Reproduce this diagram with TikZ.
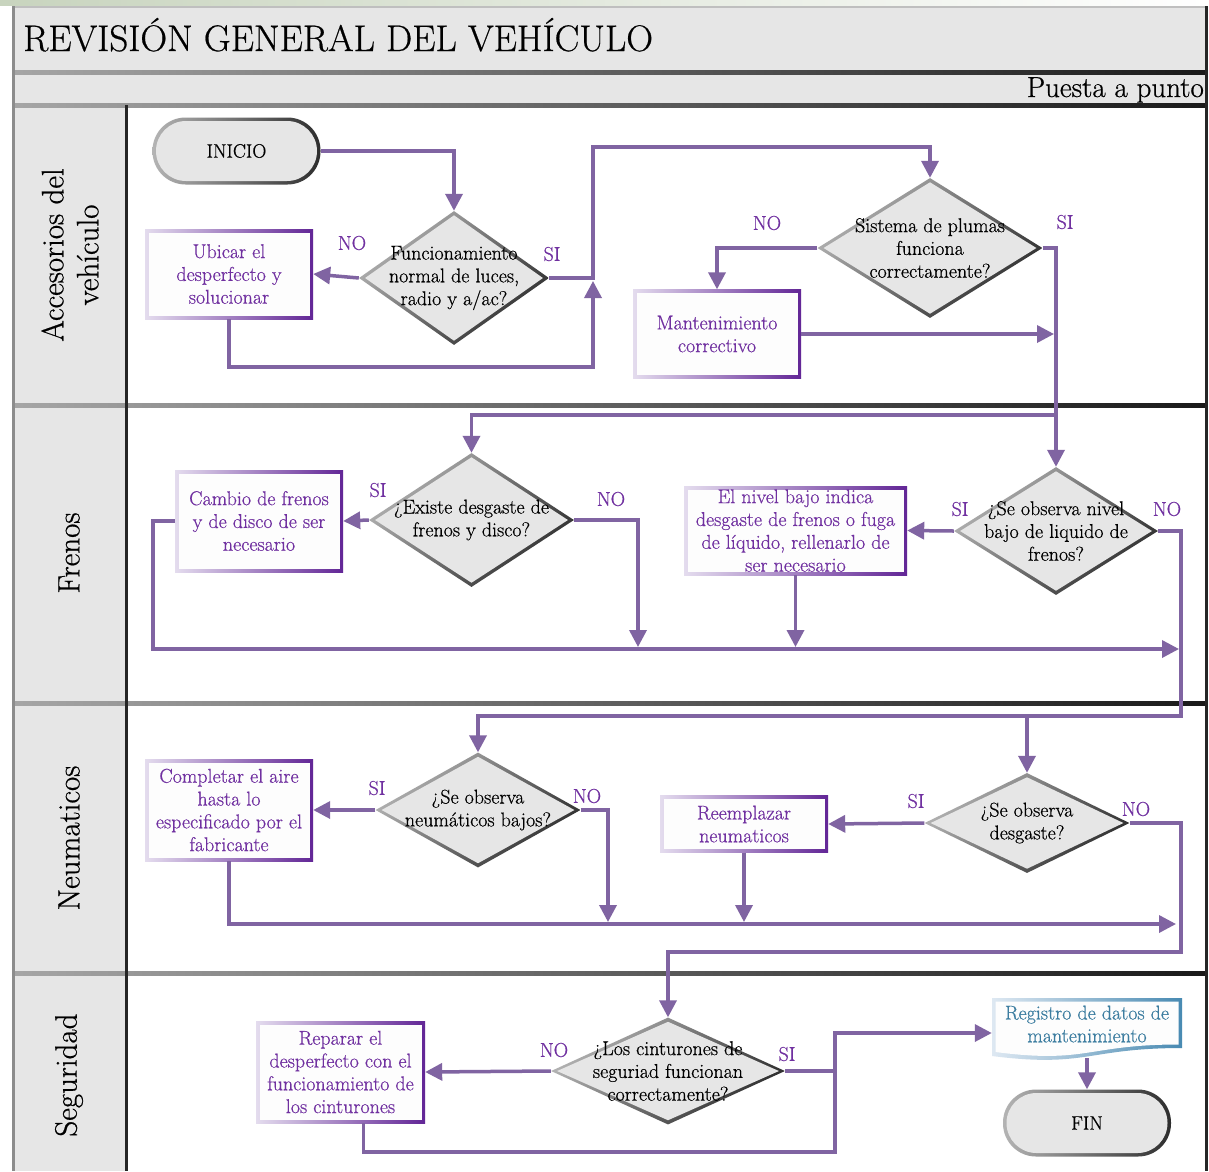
\documentclass[tikz,border=0pt]{standalone}
\usepackage{fontspec}
\setmainfont{Latin Modern Roman}[FakeBold=0.6]
\usetikzlibrary{arrows.meta,shapes.geometric,calc}
\definecolor{arrowc}{RGB}{128,100,162}
\definecolor{ptext}{RGB}{112,48,160}
\definecolor{hdrfill}{RGB}{230,230,230}
\definecolor{bxL}{RGB}{228,220,238}
\definecolor{bxR}{RGB}{98,38,150}
\definecolor{bxfill}{RGB}{253,253,253}
\definecolor{gL}{RGB}{180,180,180}
\definecolor{gR}{RGB}{45,45,45}
\definecolor{dfill}{RGB}{230,230,230}
\definecolor{docL}{RGB}{222,232,242}
\definecolor{docR}{RGB}{72,138,178}
\definecolor{doctext}{RGB}{60,125,160}
\newcommand\bodyfont{\fontsize{20}{22.8}\selectfont}
\tikzset{
  arr/.style={draw=arrowc, line width=3.5pt, -{Triangle[length=17pt,width=17pt]}},
  flow/.style={draw=arrowc, line width=3.5pt},
  procbox/.style={rectangle, inner sep=0pt, minimum width=168pt, align=center, text=ptext, font=\bodyfont,
    path picture={
      \shade[left color=bxL, right color=bxR] (path picture bounding box.south west) rectangle (path picture bounding box.north east);
      \fill[bxfill] ([shift={(3.5pt,3.5pt)}]path picture bounding box.south west) rectangle ([shift={(-3.5pt,-3.5pt)}]path picture bounding box.north east);
    }},
  decision/.style={diamond, inner sep=0pt,
    path picture={
      \shade[top color=gL, bottom color=gR, shading angle=45] (path picture bounding box.south west) rectangle (path picture bounding box.north east);
      \fill[dfill] ([yshift=-4.2pt]path picture bounding box.north) -- ([xshift=-6pt]path picture bounding box.east) -- ([yshift=4.2pt]path picture bounding box.south) -- ([xshift=6pt]path picture bounding box.west) -- cycle;
    }},
  dtext/.style={align=center, font=\bodyfont, text=black, inner sep=0pt},
  terminal/.style={rectangle, rounded corners=33pt, minimum width=168pt, minimum height=67pt, inner sep=0pt, font=\fontsize{19.5}{22}\selectfont,
    path picture={
      \shade[left color=gL, right color=gR] (path picture bounding box.south west) rectangle (path picture bounding box.north east);
      \fill[dfill, rounded corners=30pt] ([shift={(3.5pt,3.5pt)}]path picture bounding box.south west) rectangle ([shift={(-3.5pt,-3.5pt)}]path picture bounding box.north east);
    }},
  lbl/.style={text=ptext, font=\fontsize{20}{22}\selectfont, inner sep=0pt},
  lanetext/.style={rotate=90, align=center, font=\fontsize{31}{35}\selectfont, inner sep=0pt},
}
\begin{document}
\begin{tikzpicture}[x=1pt,y=-1pt]
\useasboundingbox (0,0) rectangle (1209,1171);
\fill[white] (0,0) rectangle (1209,1171);
\shade[left color={rgb,255:red,200;green,212;blue,190}, right color=white] (0,0) rectangle (1209,5);
% frame
\fill[hdrfill] (12,6) rectangle (1207,105);
\fill[hdrfill] (12,105) rectangle (127,1171);
\draw[black!25, line width=2pt] (12,7) -- (1207,7);
\foreach \yy in {72,105,405,703,973} {
  \shade[left color=black!35, right color=black!90] (12,\yy-2) rectangle (1207,\yy+2);
}
\draw[black!45, line width=3pt] (13.5,6) -- (13.5,1171);
\draw[black!85, line width=3pt] (126.5,105) -- (126.5,1171);
\draw[black!85, line width=3pt] (1206,6) -- (1206,1171);
% header texts
\node[anchor=base west, font=\fontsize{37}{42}\selectfont, inner sep=0pt] (title) at (23,51) {REVISIÓN GENERAL DEL VEHÍCULO};
\node[anchor=base east, font=\fontsize{29}{32}\selectfont, inner sep=0pt] (sub) at (1204,97) {Puesta a punto};
\node[lanetext] (lane1) at (70,255) {Accesorios del\\vehículo};
\node[lanetext] (lane2) at (69,553) {Frenos};
\node[lanetext] (lane3) at (69,838) {Neumaticos};
\node[lanetext] (lane4) at (69,1075) {Seguridad};
% nodes
\node[terminal] (inicio) at (236.5,151) {INICIO};
\node[decision, minimum width=190pt, minimum height=134pt] (d1) at (454,278) {};
\node[dtext] (d1t) at (454,278) {Funcionamiento\\normal de luces,\\radio y a/ac?};
\node[procbox, minimum height=90pt] (ubicar) at (229,274) {Ubicar el\\desperfecto y\\solucionar};
\node[decision, minimum width=225pt, minimum height=140pt] (d2) at (930,248) {};
\node[dtext] (d2t) at (930,248) {Sistema de plumas\\funciona\\correctamente?};
\node[procbox, minimum height=89pt] (mant) at (717,334) {Mantenimiento\\correctivo};
\node[decision, minimum width=205pt, minimum height=134pt] (d3) at (471.5,520) {};
\node[dtext] (d3t) at (471.5,520) {¿Existe desgaste de\\frenos y disco?};
\node[procbox, minimum height=102pt] (cambio) at (259,521) {Cambio de frenos\\y de disco de ser\\necesario};
\node[decision, minimum width=204pt, minimum height=128pt] (d4) at (1056,531) {};
\node[dtext] (d4t) at (1056,531) {¿Se observa nivel\\bajo de liquido de\\frenos?};
\node[procbox, minimum width=223pt, minimum height=89pt] (nivel) at (795.5,530.5) {El nivel bajo indica\\desgaste de frenos o fuga\\de líquido, rellenarlo de\\ser necesario};
\node[decision, minimum width=205pt, minimum height=115pt] (d5) at (478,810) {};
\node[dtext] (d5t) at (478,810) {¿Se observa\\neumáticos bajos?};
\node[procbox, minimum height=102pt] (completar) at (229,810) {Completar el aire\\hasta lo\\especificado por el\\fabricante};
\node[decision, minimum width=205pt, minimum height=100pt] (d6) at (1027,823) {};
\node[dtext] (d6t) at (1027,823) {¿Se observa\\desgaste?};
\node[procbox, minimum height=57pt] (reemp) at (744,824) {Reemplazar\\neumaticos};
\node[decision, minimum width=234pt, minimum height=107pt] (d7) at (668,1071) {};
\node[dtext] (d7t) at (668,1071) {¿Los cinturones de\\seguriad funcionan\\correctamente?};
\node[procbox, minimum width=169pt, minimum height=102pt] (reparar) at (340.5,1072) {Reparar el\\desperfecto con el\\funcionamiento de\\los cinturones};
\node[terminal] (fin) at (1087,1123) {FIN};
% document shape
\shade[left color=docL, right color=docR] (992,998) -- (1182,998) -- (1182,1048) .. controls (1087,1048) and (1087,1068) .. (992,1056) -- cycle;
\fill[bxfill] (995.5,1001.5) -- (1178.5,1001.5) -- (1178.5,1044.5) .. controls (1087,1044.5) and (1087,1064) .. (995.5,1052) -- cycle;
\node[rectangle, minimum width=190pt, minimum height=60pt, inner sep=0pt] (reg) at (1087,1028) {};
\node[align=center, font=\bodyfont, text=doctext, inner sep=0pt] (regt) at (1087,1024) {Registro de datos de\\mantenimiento};
% labels
\node[lbl] (l1) at (352,243) {NO};
\node[lbl] (l2) at (552,254) {SI};
\node[lbl] (l3) at (767,223) {NO};
\node[lbl] (l4) at (1065,222) {SI};
\node[lbl] (l5) at (378,490) {SI};
\node[lbl] (l6) at (611,499) {NO};
\node[lbl] (l7) at (960,509) {SI};
\node[lbl] (l8) at (1167,509) {NO};
\node[lbl] (l9) at (377,788) {SI};
\node[lbl] (l10) at (587,796) {NO};
\node[lbl] (l11) at (916,801) {SI};
\node[lbl] (l12) at (1136,809) {NO};
\node[lbl] (l13) at (554,1050) {NO};
\node[lbl] (l14) at (787,1054) {SI};
% coordinates
\coordinate (j1) at (593,278);
\coordinate (j2) at (1056,415);
\coordinate (j3) at (1181,716);
\coordinate (j4) at (1181,952);
\coordinate (j5) at (835,1033);
% connectors
\draw[arr] (inicio.east) -| (d1.north);
\draw[arr] (d1.west) -- (ubicar.east);
\draw[arr] (d1.east) -- (j1) |- (930,147) -- (d2.north);
\draw[arr] (ubicar.south) |- (593,367) -- (593,281);
\draw[arr] (d2.west) -| (mant.north);
\draw[arr] (mant.east) -- (1054,334);
\draw[arr] (d2.east) -| (d4.north);
\draw[arr] (j2) -| (d3.north);
\draw[arr] (d3.west) -- (cambio.east);
\draw[arr] (cambio.west) -- (153,521) |- (1179,649);
\draw[arr] (d3.east) -| (638,647);
\draw[arr] (d4.west) -- (nivel.east);
\draw[arr] (nivel.south) -- (795.5,647);
\draw[arr] (d4.east) -| (j3) -| (d5.north);
\draw[arr] (1027,716) -- (d6.north);
\draw[arr] (d5.west) -- (completar.east);
\draw[arr] (completar.south) |- (1176,924);
\draw[arr] (d5.east) -| (608,922);
\draw[arr] (d6.west) -- (reemp.east);
\draw[arr] (reemp.south) -- (744,922);
\draw[arr] (d6.east) -| (j4) -| (d7.north);
\draw[arr] (d7.west) -- (reparar.east);
\draw[arr] ([xshift=23pt]reparar.south) |- (835,1152) -- (j5) -- (j5 -| reg.west);
\draw[flow] (d7.east) -- (d7.east -| j5);
\draw[arr] (reg.south) -- (fin.north);
\end{tikzpicture}
\end{document}
